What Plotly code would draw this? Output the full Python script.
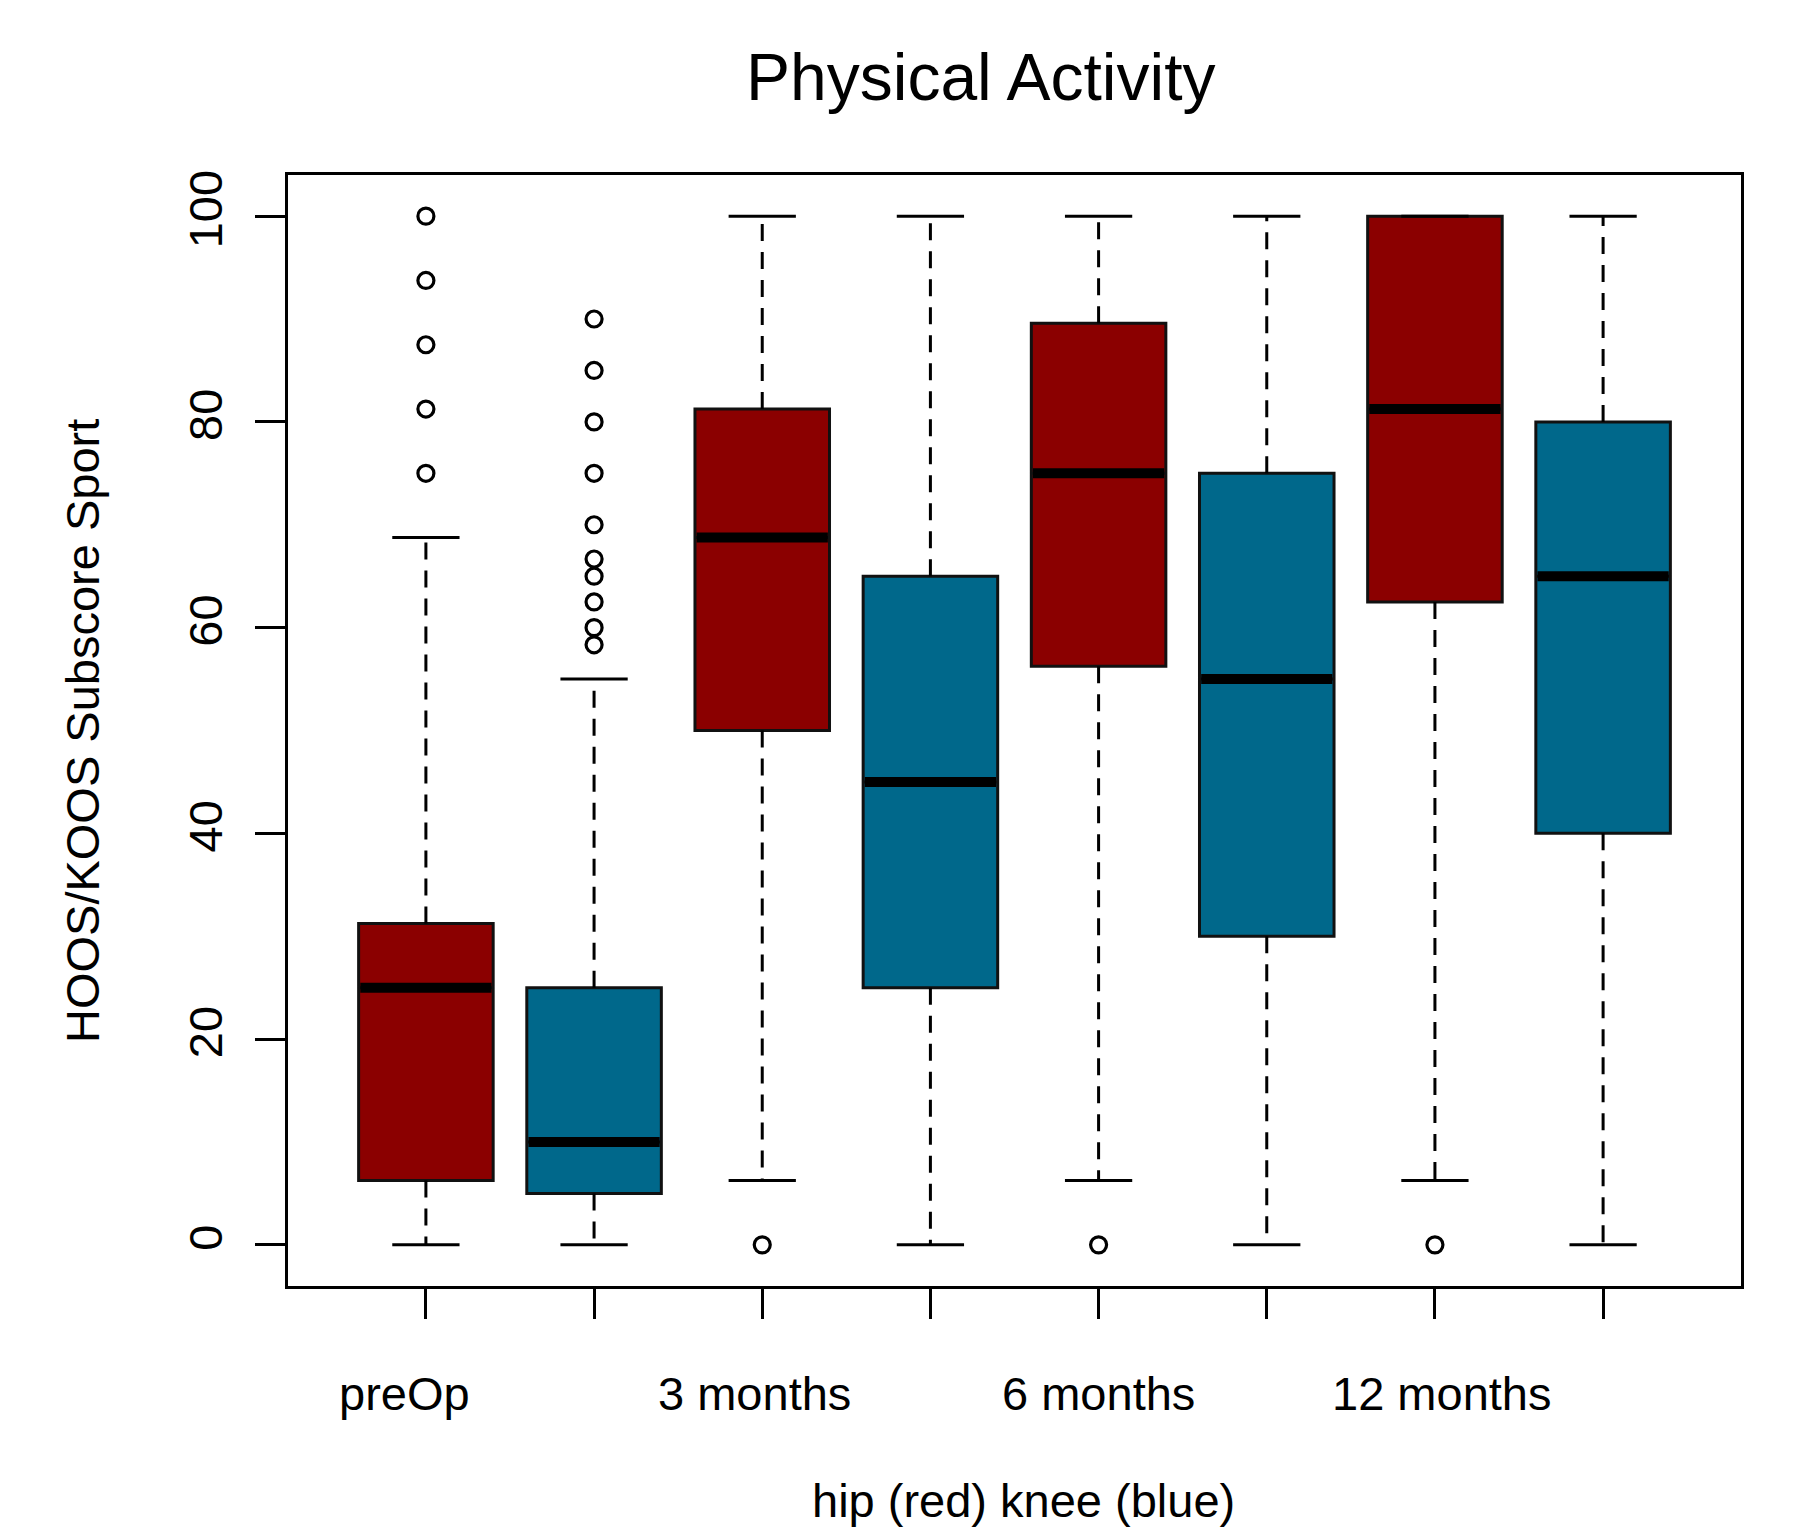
import plotly.graph_objects as go

# ---- data ----
groups = ["preOp", "3 months", "6 months", "12 months"]
hip_pos = [1, 3, 5, 7]
knee_pos = [2, 4, 6, 8]

hip_q1 = [6.25, 50, 56.25, 62.5]
hip_med = [25, 68.75, 75, 81.25]
hip_q3 = [31.25, 81.25, 89.6, 100]
hip_lo = [0, 6.25, 6.25, 6.25]
hip_hi = [68.75, 100, 100, 100]
hip_out = [[75, 81.25, 87.5, 93.75, 100], [0], [0], [0]]

knee_q1 = [5, 25, 30, 40]
knee_med = [10, 45, 55, 65]
knee_q3 = [25, 65, 75, 80]
knee_lo = [0, 0, 0, 0]
knee_hi = [55, 100, 100, 100]
knee_out = [[58.33, 60, 62.5, 65, 66.67, 70, 75, 80, 85, 90], [], [], []]

label_pos = [0.87, 2.955, 4.997, 7.04]
y_ticks = [0, 20, 40, 60, 80, 100]

# ---- style ----
FONT = "Liberation Sans, Arial, sans-serif"
BOXW = 0.8
CAPW = 0.2
HIP_COLOR = "#8B0000"
KNEE_COLOR = "#00688B"

fig = go.Figure()


def add_series(pos, q1, med, q3, lo, hi, outs, color):
    # whiskers (dashed)
    wx, wy = [], []
    for p, a, b, c, d in zip(pos, q1, q3, lo, hi):
        wx += [p, p, None, p, p, None]
        wy += [b, d, None, a, c, None]
    fig.add_trace(go.Scatter(x=wx, y=wy, mode="lines",
                             line=dict(color="black", width=3, dash="17px,11px"),
                             hoverinfo="skip", showlegend=False))
    # caps
    cx, cy = [], []
    for p, c, d in zip(pos, lo, hi):
        cx += [p - CAPW, p + CAPW, None, p - CAPW, p + CAPW, None]
        cy += [d, d, None, c, c, None]
    fig.add_trace(go.Scatter(x=cx, y=cy, mode="lines",
                             line=dict(color="black", width=3),
                             hoverinfo="skip", showlegend=False))
    # boxes
    fig.add_trace(go.Box(x=pos, q1=q1, median=med, q3=q3,
                         lowerfence=q1, upperfence=q3,
                         width=BOXW, whiskerwidth=0,
                         fillcolor=color, line=dict(color="#111111", width=3),
                         boxpoints=False, showlegend=False))
    # medians
    mx, my = [], []
    for p, m in zip(pos, med):
        mx += [p - BOXW / 2 + 0.01, p + BOXW / 2 - 0.01, None]
        my += [m, m, None]
    fig.add_trace(go.Scatter(x=mx, y=my, mode="lines",
                             line=dict(color="black", width=10),
                             hoverinfo="skip", showlegend=False))
    # outliers
    ox, oy = [], []
    for p, o in zip(pos, outs):
        ox += [p] * len(o)
        oy += list(o)
    fig.add_trace(go.Scatter(x=ox, y=oy, mode="markers",
                             marker=dict(symbol="circle-open", size=16,
                                         color="black", line=dict(width=3.2)),
                             showlegend=False))


add_series(hip_pos, hip_q1, hip_med, hip_q3, hip_lo, hip_hi, hip_out, HIP_COLOR)
add_series(knee_pos, knee_q1, knee_med, knee_q3, knee_lo, knee_hi, knee_out, KNEE_COLOR)

annotations = []
for g, lp in zip(groups, label_pos):
    annotations.append(dict(x=lp, y=-0.097, xref="x", yref="paper",
                            text=g, showarrow=False, xanchor="center", yanchor="middle",
                            font=dict(family=FONT, size=47, color="black")))
annotations.append(dict(x=0.506, y=-0.193, xref="paper", yref="paper",
                        text="hip (red) knee (blue)", showarrow=False,
                        xanchor="center", yanchor="middle",
                        font=dict(family=FONT, size=47, color="black")))
annotations.append(dict(x=-0.1418, y=0.4995, xref="paper", yref="paper",
                        text="HOOS/KOOS Subscore Sport", textangle=-90, showarrow=False,
                        xanchor="center", yanchor="middle",
                        font=dict(family=FONT, size=47, color="black")))
annotations.append(dict(x=0.4769, y=1.0882, xref="paper", yref="paper",
                        text="Physical Activity", showarrow=False,
                        xanchor="center", yanchor="middle",
                        font=dict(family=FONT, size=66, color="black")))

# page has an 8px body margin: shift everything by -8px
fig.update_layout(
    width=1786, height=1522,
    margin=dict(l=280, r=53, t=167, b=244),
    paper_bgcolor="white", plot_bgcolor="white",
    boxmode="overlay",
    showlegend=False,
    annotations=annotations,
    font=dict(family=FONT, size=47, color="black"),
)
fig.update_xaxes(range=[0.18, 8.82], tickvals=hip_pos + knee_pos, showticklabels=False,
                 ticks="outside", ticklen=30, tickwidth=3, tickcolor="black",
                 showline=True, mirror=True, linecolor="black", linewidth=3,
                 showgrid=False, zeroline=False)
fig.update_yaxes(range=[-4, 104], tickvals=y_ticks, tickangle=-90,
                 ticks="outside", ticklen=30, tickwidth=3, tickcolor="black",
                 ticklabelstandoff=14,
                 tickfont=dict(family=FONT, size=47, color="black"),
                 showline=True, mirror=True, linecolor="black", linewidth=3,
                 showgrid=False, zeroline=False)

fig.write_html("out.html")
